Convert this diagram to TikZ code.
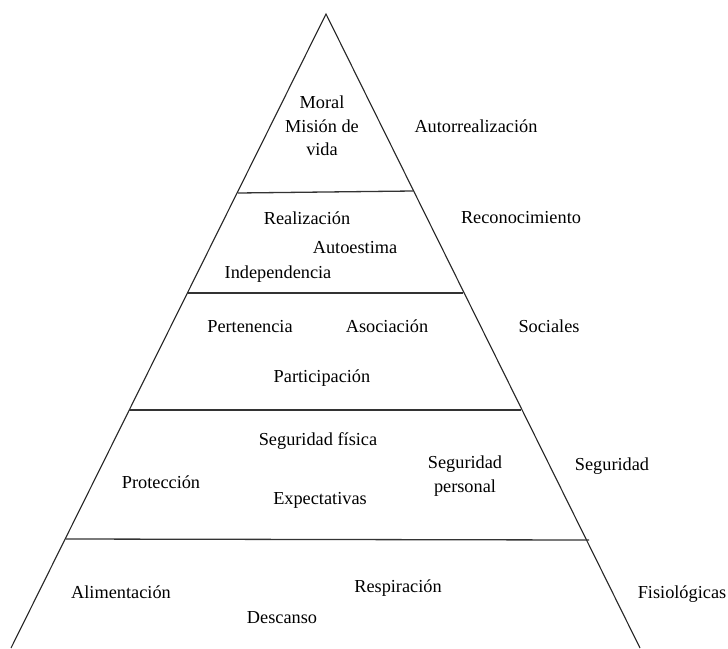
\documentclass[tikz,border=0pt]{standalone}
\usepackage{fontspec}
\setmainfont{Liberation Serif}
\begin{document}
\begin{tikzpicture}[x=1pt,y=-1pt,
  edge/.style={line width=1.1pt,black!85},
  divider/.style={line width=1.3pt,black!80},
  lbl/.style={inner sep=0pt,font=\fontsize{18.3}{23.5}\selectfont,align=center,anchor=center}]
\useasboundingbox (0,0) rectangle (728,648);
% pyramid outline
\coordinate (apex) at (326,14);
\coordinate (bl) at (11,648);
\coordinate (br) at (640,648);
\draw[edge] (bl) -- (apex) -- (br);
% dividers
\draw[divider] (238,193) -- (413,191);
\draw[divider] (188,293) -- (463,293);
\draw[divider] (129,410) -- (521,410);
\draw[divider] (66,539) -- (589,540);
% level 1
\node[lbl] (moral) at (322,126) {Moral\\Misión de\\vida};
\node[lbl] (autor) at (476,126) {Autorrealización};
% level 2
\node[lbl] (realiz) at (307,218) {Realización};
\node[lbl] (autoest) at (355,248) {Autoestima};
\node[lbl] (indep) at (278,274) {Independencia};
\node[lbl] (recon) at (521,218) {Reconocimiento};
% level 3
\node[lbl] (perten) at (250,327) {Pertenencia};
\node[lbl] (asoc) at (387,326) {Asociación};
\node[lbl] (partic) at (322,378) {Participación};
\node[lbl] (soc) at (549,326) {Sociales};
% level 4
\node[lbl] (segfis) at (318,441) {Seguridad física};
\node[lbl] (segper) at (465,476) {Seguridad\\personal};
\node[lbl] (protec) at (161,482) {Protección};
\node[lbl] (expect) at (320,500) {Expectativas};
\node[lbl] (seg) at (612,466) {Seguridad};
% level 5
\node[lbl] (alim) at (121,592) {Alimentación};
\node[lbl] (desc) at (282,618) {Descanso};
\node[lbl] (resp) at (398,588) {Respiración};
\node[lbl] (fisio) at (682,594) {Fisiológicas};
\end{tikzpicture}
\end{document}
